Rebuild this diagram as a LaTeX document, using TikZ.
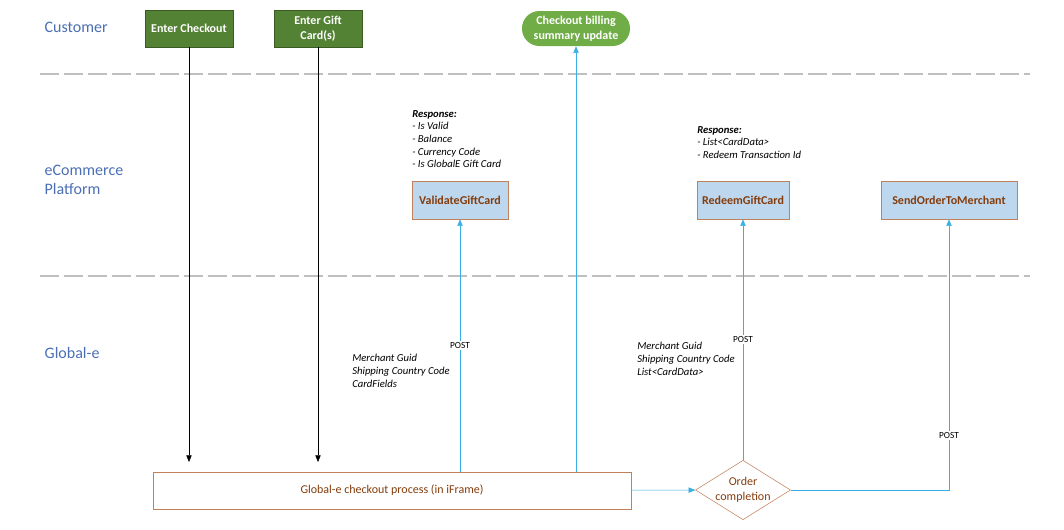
\documentclass[tikz,border=0pt]{standalone}
\usepackage{fontspec}
\setmainfont{Carlito}
\usetikzlibrary{shapes.geometric,arrows.meta}
\definecolor{lane}{HTML}{4A6FB5}
\definecolor{dkgreen}{HTML}{548235}
\definecolor{ltgreen}{HTML}{70AD47}
\definecolor{boxblue}{HTML}{BDD7EE}
\definecolor{brown}{HTML}{C0805A}
\definecolor{txtbrown}{HTML}{843C0C}
\definecolor{flow}{HTML}{3AAFE4}
\tikzset{
  lanelbl/.style = {anchor = west, text = lane, font = \large, align = left},
  custstep/.style = {fill = dkgreen, draw = dkgreen!70!black, text = white, minimum width = 88pt*0.75, minimum height = 37pt*0.75, align = center, font = \small\bfseries},
  api/.style = {fill = boxblue, draw = brown, text = txtbrown, font = \small\bfseries, minimum height = 38pt*0.75},
  note/.style = {anchor = north west, font = \footnotesize\itshape, align = left, inner sep = 0pt},
  post/.style = {fill = white, font = \scriptsize, inner sep = 1pt},
  flowarr/.style = {draw = flow, -{Triangle[length = 5pt, width = 4pt]}},
  blkarr/.style = {-{Triangle[length = 5pt, width = 4pt]}}
}
\begin{document}
\begin{tikzpicture}[x = 0.75pt, y = -0.75pt]
            \useasboundingbox (0,0) rectangle (1064,529);
            % lanes
            \node[lanelbl] (cust) at (40,27) {Customer};
            \node[lanelbl] (ecom) at (40,180) {eCommerce\\Platform};
            \node[lanelbl] (glob) at (40,353) {Global-e};
            \draw [gray!50, dashed, dash pattern = on 14pt off 4pt, line width = 1pt]
            (40,74) -- (1030,74);
            \draw [gray!50, dashed, dash pattern = on 14pt off 4pt, line width = 1pt]
            (40,276) -- (1030,276);
            
            % customer steps
            \node[custstep] (entercheck) at (189,28.5) {Enter Checkout};
            \node[custstep] (entergift) at (318,28.5) {Enter Gift\\Card(s)};
            \node[fill = ltgreen, text = white, rounded corners = 13pt, minimum width = 108pt*0.75, minimum height = 35pt*0.75, align = center, font = \small\bfseries] (billing) at (576,28.5) {Checkout billing\\summary update};
            
            % platform calls
            \node[api, minimum width = 96pt*0.75] (validate) at (460,200) {ValidateGiftCard};
            \node[api, minimum width = 92pt*0.75] (redeem) at (743,200) {RedeemGiftCard};
            \node[api, minimum width = 136pt*0.75] (sendorder) at (949,200) {SendOrderToMerchant};
            \node[note] (valresp) at (412,110) {\textbf{Response:}\\- Is Valid\\- Balance\\- Currency Code\\- Is GlobalE Gift Card};
            \node[note] (redresp) at (697,126) {\textbf{Response:}\\- List<CardData>\\- Redeem Transaction Id};
            
            % global-e
            \node[draw = brown, text = txtbrown, minimum width = 478pt*0.75, minimum height = 37pt*0.75, font = \small] (process) at (392,490.5) {Global-e checkout process (in iFrame)};
            \node[diamond, draw = brown, text = txtbrown, aspect = 1.6, inner sep = 0pt, minimum width = 95pt*0.75, minimum height = 58pt*0.75, align = center, font = \small] (order) at (743,490) {Order\\completion};
            \node[note] (valreq) at (352,354) {Merchant Guid\\Shipping Country Code\\CardFields};
            \node[note] (redreq) at (637,342) {Merchant Guid\\Shipping Country Code\\List<CardData>};
            
            % connectors
            \coordinate (c1) at (189,462);
            \coordinate (c2) at (318,462);
            \draw [blkarr] (entercheck) -- (c1);
            \draw [blkarr] (entergift) -- (c2);
            \draw [flowarr] (process.north -| validate) -- node[post, pos = 0.5]{POST} (validate);
            \draw [flowarr] (process.north -| billing) -- (billing);
            \draw [flowarr] (process) -- (order);
            \draw [flowarr] (order) -- node[post, pos = 0.5]{POST} (redeem);
            \draw [flowarr] (order.east) -| node[post, pos = 0.6]{POST} (sendorder);
        \end{tikzpicture}
\end{document}
